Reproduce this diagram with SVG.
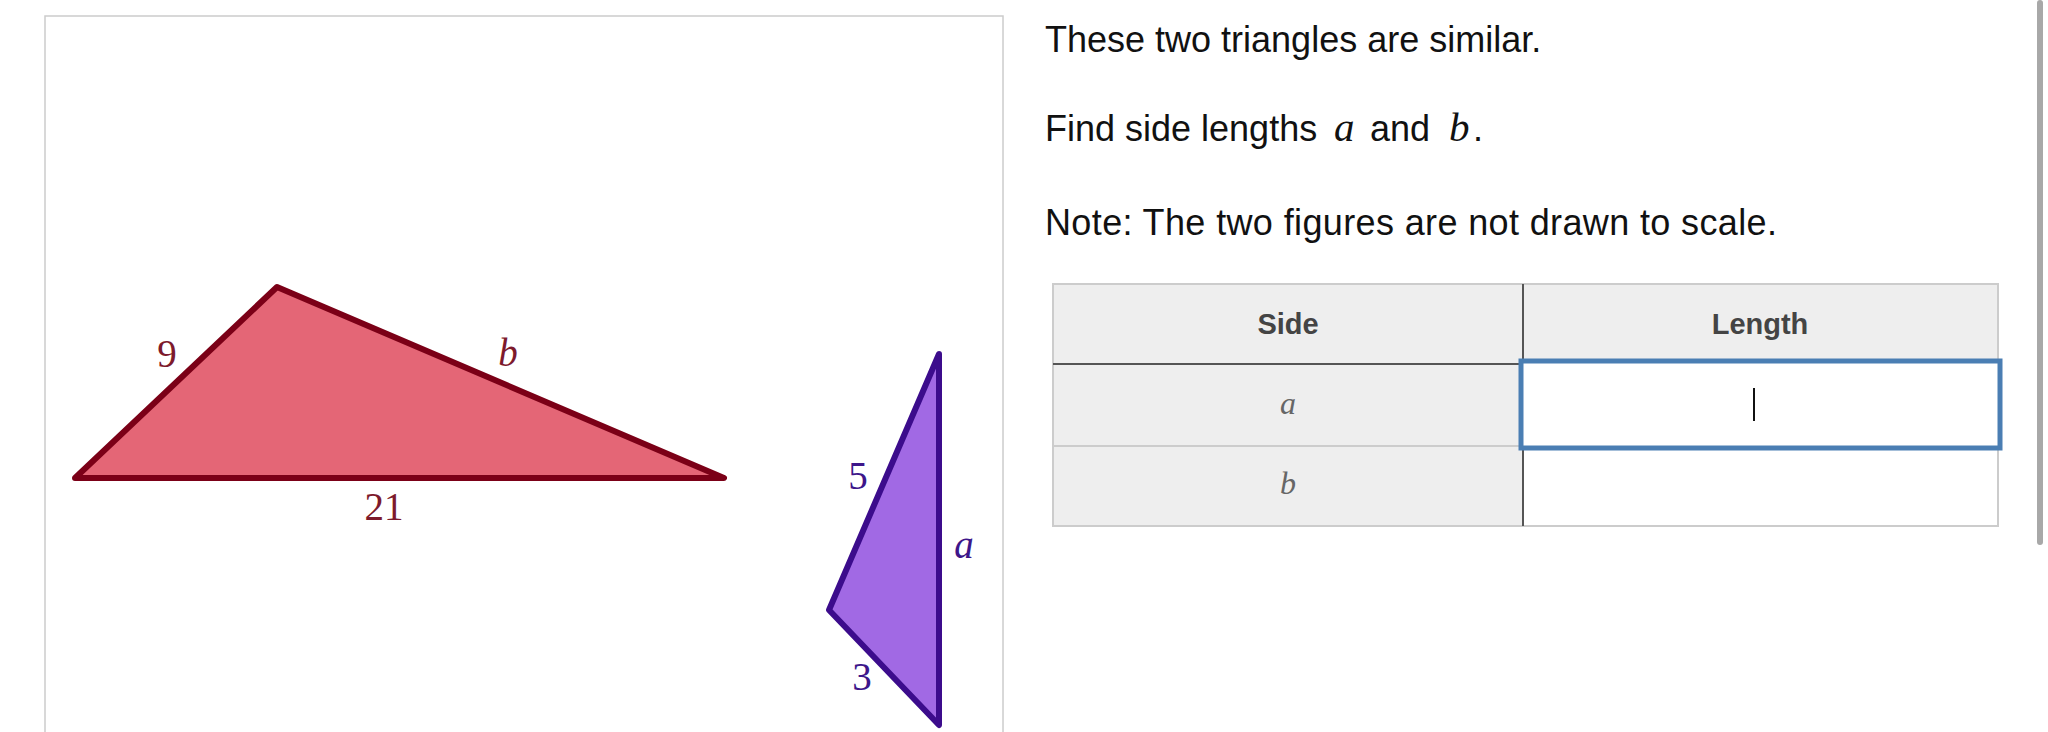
<svg xmlns="http://www.w3.org/2000/svg" width="2048" height="732" viewBox="0 0 2048 732">
<style>
.txt{font-family:"Liberation Sans",Arial,sans-serif;font-size:36px;fill:#111}
.math{font-family:"Liberation Serif","Times New Roman",serif;font-style:italic}
.lblR{font-family:"Liberation Serif","Times New Roman",serif;font-size:39px;fill:#7d1a2c;text-anchor:middle}
.lblP{font-family:"Liberation Serif","Times New Roman",serif;font-size:39px;fill:#3d168a;text-anchor:middle}
.hdr{font-family:"Liberation Sans",Arial,sans-serif;font-size:29px;font-weight:bold;fill:#444;text-anchor:middle}
.cell{font-family:"Liberation Serif","Times New Roman",serif;font-style:italic;font-size:32px;fill:#666;text-anchor:middle}
</style>
<rect width="2048" height="732" fill="#fff"/>
<g id="panel">
<rect x="45" y="16" width="958" height="740" fill="#fff" stroke="#cccccc" stroke-width="1.5"/>
</g>
<g id="red-triangle">
<polygon points="75,478 277,287 724,478" fill="#e46676" stroke="#7b0017" stroke-width="6" stroke-linejoin="round"/>
<text class="lblR" x="167" y="367">9</text>
<text class="lblR math" x="508" y="366">b</text>
<text class="lblR" x="384" y="520">21</text>
</g>
<g id="purple-triangle">
<polygon points="939,354 829,610 939,725" fill="#a169e4" stroke="#3c0c8c" stroke-width="6" stroke-linejoin="round"/>
<text class="lblP" x="858" y="489">5</text>
<text class="lblP math" x="964" y="558">a</text>
<text class="lblP" x="862" y="690">3</text>
</g>
<g id="question">
<text class="txt" x="1045" y="52">These two triangles are similar.</text>
<text class="txt" x="1045" y="141">Find side lengths <tspan class="math" x="1334" font-size="41">a</tspan><tspan x="1370">and</tspan><tspan class="math" x="1449" font-size="41">b</tspan><tspan x="1473">.</tspan></text>
<text class="txt" x="1045" y="235" textLength="732" lengthAdjust="spacing">Note: The two figures are not drawn to scale.</text>
</g>
<g id="table">
<rect x="1053" y="284" width="945" height="242" fill="#fff" stroke="#cccccc" stroke-width="2"/>
<rect x="1054" y="285" width="943" height="78" fill="#eeeeee"/>
<rect x="1054" y="363" width="469" height="162" fill="#eeeeee"/>
<line x1="1053" y1="446" x2="1523" y2="446" stroke="#cccccc" stroke-width="2"/>
<line x1="1053" y1="364" x2="1523" y2="364" stroke="#555" stroke-width="2"/>
<line x1="1523" y1="284" x2="1523" y2="526" stroke="#555" stroke-width="2"/>
<text class="hdr" x="1288" y="334">Side</text>
<text class="hdr" x="1760" y="334">Length</text>
<text class="cell" x="1288" y="414">a</text>
<text class="cell" x="1288" y="494">b</text>
<rect x="1521" y="361" width="479" height="87" fill="#fff" stroke="#4a7eb3" stroke-width="5"/>
<line x1="1754" y1="388" x2="1754" y2="421" stroke="#111" stroke-width="2"/>
</g>
<g id="scrollbar">
<rect x="2037" y="0" width="6" height="545" rx="3" fill="#a8a8a8"/>
</g>
</svg>
